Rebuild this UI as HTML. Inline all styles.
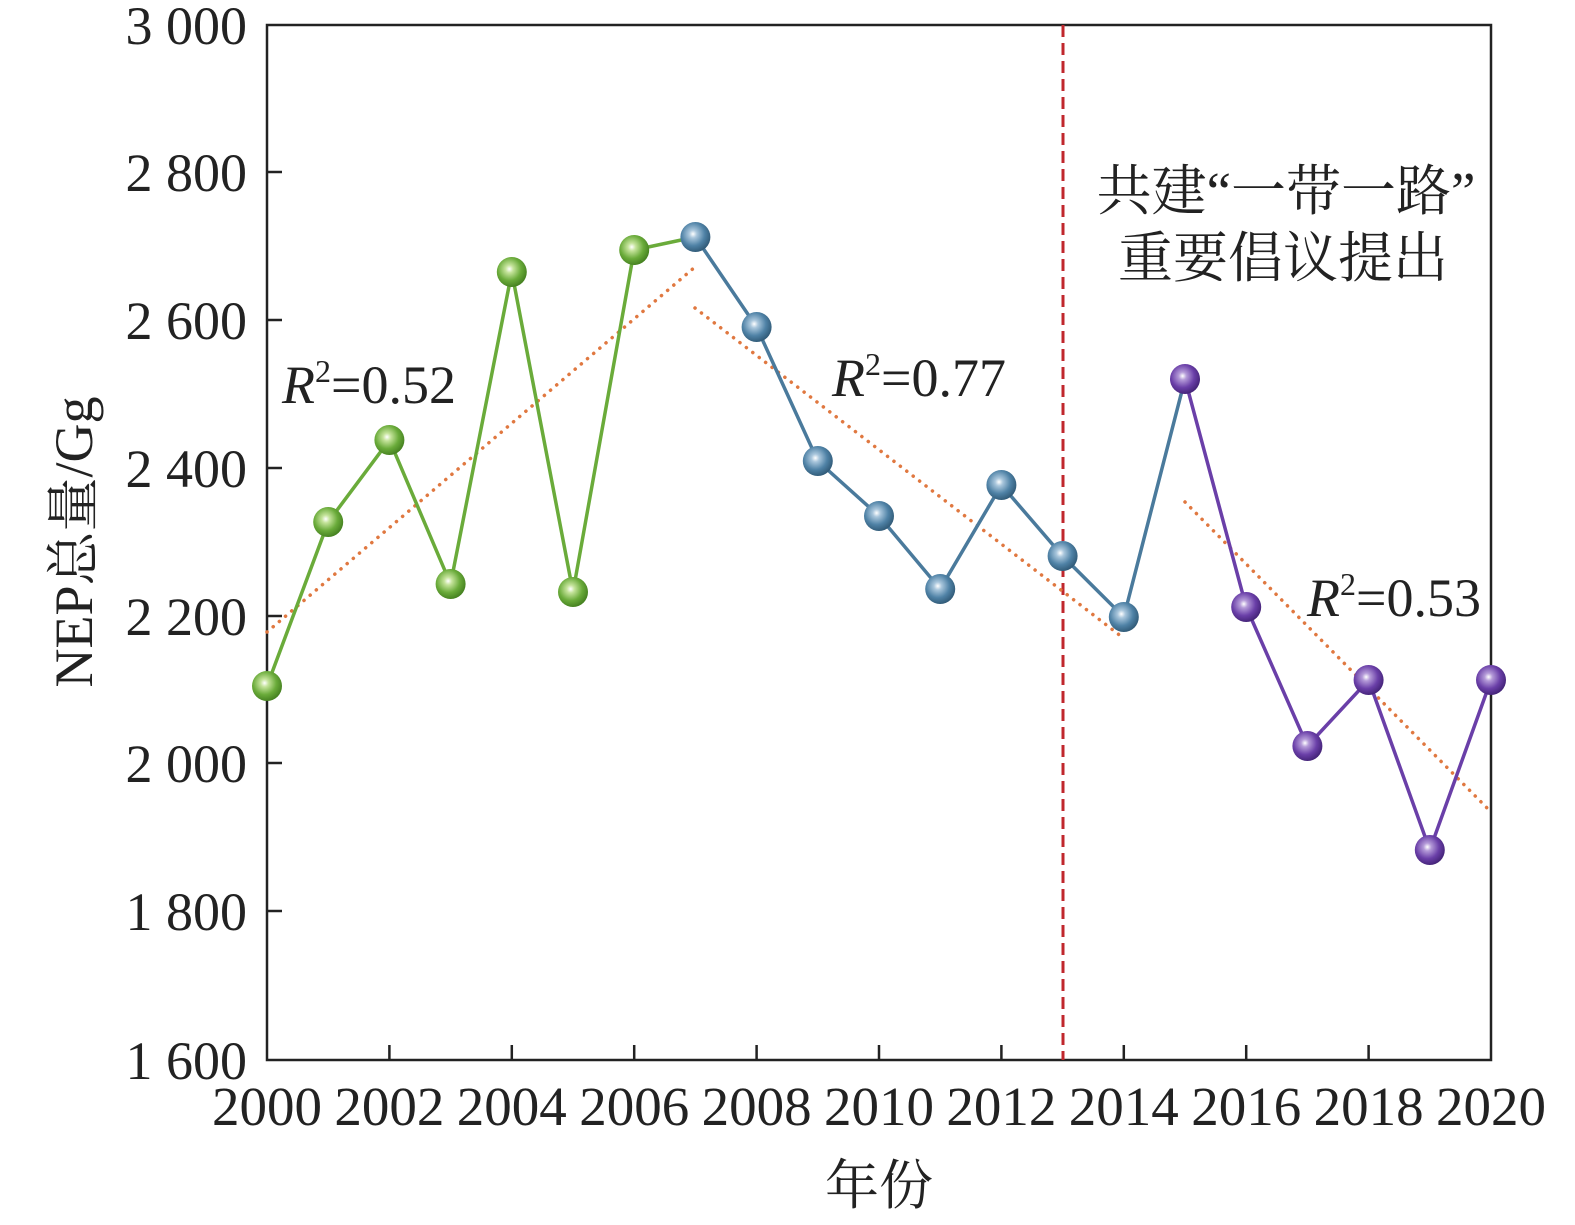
<!DOCTYPE html>
<html><head><meta charset="utf-8"><style>body{margin:0;background:#fff}svg{font-family:"Liberation Serif","Noto Serif CJK SC",serif}</style></head><body>
<svg width="1575" height="1220" xmlns="http://www.w3.org/2000/svg">
<defs>
<radialGradient id="g" cx="0.42" cy="0.4" r="0.65"><stop offset="0" stop-color="#fff"/><stop offset="0.2" stop-color="#c4e39a"/><stop offset="0.6" stop-color="#6aab3a"/><stop offset="1" stop-color="#3f7a1c"/></radialGradient>
<radialGradient id="b" cx="0.42" cy="0.4" r="0.65"><stop offset="0" stop-color="#fff"/><stop offset="0.2" stop-color="#a9c6dc"/><stop offset="0.6" stop-color="#4f82a6"/><stop offset="1" stop-color="#2c5470"/></radialGradient>
<radialGradient id="p" cx="0.42" cy="0.4" r="0.65"><stop offset="0" stop-color="#fff"/><stop offset="0.2" stop-color="#b49ad8"/><stop offset="0.6" stop-color="#6a3fa8"/><stop offset="1" stop-color="#3e1f70"/></radialGradient>
</defs>
<rect x="267" y="25" width="1224" height="1035" fill="none" stroke="#222" stroke-width="2.5"/>
<g stroke="#222" stroke-width="2.5">
<line x1="267" y1="172" x2="282" y2="172"/><line x1="267" y1="320" x2="282" y2="320"/><line x1="267" y1="468" x2="282" y2="468"/><line x1="267" y1="616" x2="282" y2="616"/><line x1="267" y1="763" x2="282" y2="763"/><line x1="267" y1="911" x2="282" y2="911"/>
<line x1="389.4" y1="1060" x2="389.4" y2="1045"/><line x1="511.8" y1="1060" x2="511.8" y2="1045"/><line x1="634.2" y1="1060" x2="634.2" y2="1045"/><line x1="756.6" y1="1060" x2="756.6" y2="1045"/><line x1="879" y1="1060" x2="879" y2="1045"/><line x1="1001.4" y1="1060" x2="1001.4" y2="1045"/><line x1="1123.8" y1="1060" x2="1123.8" y2="1045"/><line x1="1246.2" y1="1060" x2="1246.2" y2="1045"/><line x1="1368.6" y1="1060" x2="1368.6" y2="1045"/>
</g>
<g font-size="54" fill="#222" text-anchor="end">
<text x="247" y="44">3 000</text><text x="247" y="191">2 800</text><text x="247" y="339">2 600</text><text x="247" y="487">2 400</text><text x="247" y="635">2 200</text><text x="247" y="782">2 000</text><text x="247" y="930">1 800</text><text x="247" y="1079">1 600</text>
</g>
<g font-size="55" fill="#222" text-anchor="middle">
<text x="267" y="1125">2000</text><text x="389.4" y="1125">2002</text><text x="511.8" y="1125">2004</text><text x="634.2" y="1125">2006</text><text x="756.6" y="1125">2008</text><text x="879" y="1125">2010</text><text x="1001.4" y="1125">2012</text><text x="1123.8" y="1125">2014</text><text x="1246.2" y="1125">2016</text><text x="1368.6" y="1125">2018</text><text x="1491" y="1125">2020</text>
<text x="879" y="1204" font-size="54">年份</text>
<text transform="translate(92,542) rotate(-90)" font-size="54">NEP总量/Gg</text>
</g>
<line x1="1063" y1="25" x2="1063" y2="1060" stroke="#c0272d" stroke-width="3" stroke-dasharray="12,6"/>
<g stroke="#e07840" stroke-width="3.5" stroke-dasharray="0.1,8" stroke-linecap="round">
<line x1="267" y1="632" x2="695" y2="267"/><line x1="695" y1="308" x2="1122" y2="637"/><line x1="1185" y1="502" x2="1491" y2="812"/>
</g>
<polyline fill="none" stroke="#6aab3a" stroke-width="3.5" points="267,686 328.2,522 389.4,440 450.6,584 511.8,272 573,592 634.2,250 695.4,237"/>
<polyline fill="none" stroke="#4a7a9c" stroke-width="3.5" points="695.4,237 756.6,327 817.8,461 879,516 940.2,589 1001.4,485 1062.6,556 1123.8,617 1185,379"/>
<polyline fill="none" stroke="#6a3fa8" stroke-width="3.5" points="1185,379 1246.2,607 1307.4,746 1368.6,680 1429.8,850 1491,680"/>
<g fill="url(#g)"><circle cx="267" cy="686" r="15"/><circle cx="328.2" cy="522" r="15"/><circle cx="389.4" cy="440" r="15"/><circle cx="450.6" cy="584" r="15"/><circle cx="511.8" cy="272" r="15"/><circle cx="573" cy="592" r="15"/><circle cx="634.2" cy="250" r="15"/></g>
<g fill="url(#b)"><circle cx="695.4" cy="237" r="15"/><circle cx="756.6" cy="327" r="15"/><circle cx="817.8" cy="461" r="15"/><circle cx="879" cy="516" r="15"/><circle cx="940.2" cy="589" r="15"/><circle cx="1001.4" cy="485" r="15"/><circle cx="1062.6" cy="556" r="15"/><circle cx="1123.8" cy="617" r="15"/></g>
<g fill="url(#p)"><circle cx="1185" cy="379" r="15"/><circle cx="1246.2" cy="607" r="15"/><circle cx="1307.4" cy="746" r="15"/><circle cx="1368.6" cy="680" r="15"/><circle cx="1429.8" cy="850" r="15"/><circle cx="1491" cy="680" r="15"/></g>
<g font-size="54" fill="#222">
<text x="282" y="403"><tspan font-style="italic">R</tspan><tspan font-size="32" dy="-21">2</tspan><tspan dy="21">=0.52</tspan></text>
<text x="832" y="396"><tspan font-style="italic">R</tspan><tspan font-size="32" dy="-21">2</tspan><tspan dy="21">=0.77</tspan></text>
<text x="1307" y="616"><tspan font-style="italic">R</tspan><tspan font-size="32" dy="-21">2</tspan><tspan dy="21">=0.53</tspan></text>
<text x="1286" y="210" text-anchor="middle" font-size="55">共建“一带一路”</text>
<text x="1283" y="277" text-anchor="middle" font-size="55">重要倡议提出</text>
</g>
</svg>
</body></html>
